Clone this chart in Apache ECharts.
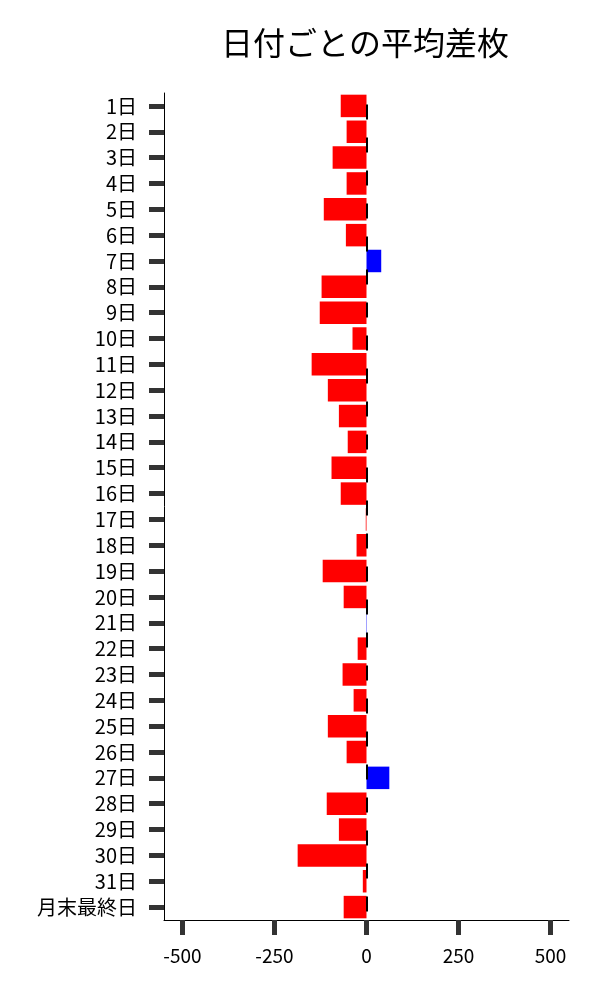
<!DOCTYPE html>
<html>
<head>
<meta charset="utf-8">
<script src="https://cdn.jsdelivr.net/npm/echarts@6/dist/echarts.min.js"></script>
<style>
html,body{margin:0;padding:0;background:#fff;}
#chart{width:600px;height:1000px;}
</style>
</head>
<body>
<div id="chart"></div>
<script>
const titleText = '日付ごとの平均差枚';
const categories = ['1日','2日','3日','4日','5日','6日','7日','8日','9日','10日','11日','12日','13日','14日','15日','16日','17日','18日','19日','20日','21日','22日','23日','24日','25日','26日','27日','28日','29日','30日','31日','月末最終日'];
const values = [-70,-54,-92,-54,-116,-56,40,-122,-127,-38,-149,-105,-75,-51,-95,-70,-2,-27,-119,-62,1,-24,-65,-35,-105,-54,62,-108,-75,-187,-10,-62];
const xTicks = [-500,-250,0,250,500];
const xMin = -550, xMax = 550;

const FONT = '"Noto Sans CJK JP", "Noto Sans", sans-serif';
const chart = echarts.init(document.getElementById('chart'), null, {renderer:'canvas'});
chart.setOption({
  animation:false,
  backgroundColor:'#fff',
  title:{
    text:titleText,
    left:221, top:27, padding:0,
    textStyle:{fontFamily:FONT, fontSize:32, fontWeight:'normal', color:'#000'}
  },
  grid:{left:164, right:31, top:93, bottom:80, containLabel:false},
  xAxis:{
    type:'value', min:xMin, max:xMax,
    axisLine:{show:true, onZero:false, lineStyle:{color:'#000', width:1}},
    axisTick:{show:true, length:15, lineStyle:{color:'#333', width:5}, customValues:xTicks},
    axisLabel:{show:true, margin:26, color:'#000', fontFamily:FONT, fontSize:19, customValues:xTicks},
    splitLine:{show:false}
  },
  yAxis:{
    type:'category', data:categories, inverse:true,
    axisLine:{show:true, onZero:false, lineStyle:{color:'#000', width:1}},
    axisTick:{show:true, alignWithLabel:true, length:15, lineStyle:{color:'#333', width:5}},
    axisLabel:{show:true, margin:27, color:'#000', fontFamily:FONT, fontSize:20, interval:0},
    splitLine:{show:false}
  },
  series:[{
    type:'bar',
    data:values,
    barWidth:'87%',
    itemStyle:{color:function(p){return p.value >= 0 ? '#0000ff' : '#ff0000';}},
    markLine:{
      silent:true, symbol:'none',
      label:{show:false},
      lineStyle:{color:'#000', width:2, type:[15,18], dashOffset:21.6},
      data:[{xAxis:0}]
    }
  }]
});
</script>
</body>
</html>
